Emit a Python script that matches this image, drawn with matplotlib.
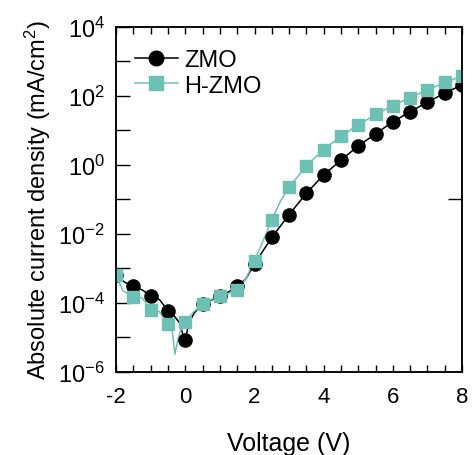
import numpy as np
import matplotlib
matplotlib.use('Agg')
import matplotlib.pyplot as plt
from matplotlib.ticker import FixedLocator, NullFormatter

plt.rcParams['font.family'] = ['Liberation Sans', 'DejaVu Sans']
plt.rcParams['mathtext.fontset'] = 'custom'
plt.rcParams['mathtext.rm'] = 'Liberation Sans'
plt.rcParams['mathtext.it'] = 'Liberation Sans'

# Marker points (every 0.5 V), values as log10(J)
volt_pts = [-2, -1.5, -1, -0.5, 0, 0.5, 1, 1.5, 2, 2.5, 3, 3.5, 4, 4.5, 5, 5.5, 6, 6.5, 7, 7.5, 8]
zmo_log = [-3.2, -3.52, -3.79, -4.22, -5.06, -4.03, -3.8, -3.52, -2.87, -2.10, -1.44, -0.82, -0.29,
           0.14, 0.55, 0.90, 1.25, 1.54, 1.82, 2.08, 2.32]
hzmo_log = [-3.19, -3.82, -4.20, -4.61, -4.54, -4.03, -3.79, -3.62, -2.77, -1.59, -0.65, -0.02, 0.44,
            0.83, 1.16, 1.46, 1.72, 1.95, 2.17, 2.39, 2.57]

# Continuous sweeps (extra points read around the dip)
zmo_line_v = [-2, -1.75, -1.5, -1.25, -1, -0.75, -0.5, -0.3, -0.15, -0.05, 0, 0.1, 0.25, 0.5, 0.75, 1,
              1.25, 1.5, 1.75, 2, 2.5, 3, 3.5, 4, 4.5, 5, 5.5, 6, 6.5, 7, 7.5, 8]
zmo_line_log = [-3.2, -3.4, -3.52, -3.62, -3.79, -3.9, -4.22, -4.4, -4.6, -5.0, -5.06, -4.6, -4.3, -4.03,
                -3.92, -3.8, -3.68, -3.52, -3.3, -2.87, -2.10, -1.44, -0.82, -0.29, 0.14, 0.55, 0.90,
                1.25, 1.54, 1.82, 2.08, 2.32]
hzmo_line_v = [-2, -1.8, -1.5, -1.25, -1, -0.75, -0.5, -0.4, -0.3, -0.2, -0.1, 0, 0.25, 0.5, 0.75, 1,
               1.25, 1.5, 1.75, 2, 2.25, 2.5, 2.75, 3, 3.5, 4, 4.5, 5, 5.5, 6, 6.5, 7, 7.5, 8]
hzmo_line_log = [-3.19, -3.65, -3.82, -3.85, -4.2, -4.25, -4.61, -4.62, -5.48, -5.0, -4.7, -4.54, -4.25,
                 -4.03, -3.9, -3.79, -3.72, -3.62, -3.3, -2.77, -2.2, -1.59, -1.05, -0.65, -0.02, 0.44,
                 0.83, 1.16, 1.46, 1.72, 1.95, 2.17, 2.39, 2.57]

teal = '#6cc0b4'

fig = plt.figure(figsize=(4.72, 4.56), dpi=100)
ax = fig.add_axes([0.246, 0.182, 0.733, 0.757])

ax.plot(zmo_line_v, 10 ** np.array(zmo_line_log), color='black', lw=1.1, zorder=2)
ax.plot(hzmo_line_v, 10 ** np.array(hzmo_line_log), color=teal, lw=1.1, zorder=2)
ax.plot(volt_pts, 10 ** np.array(zmo_log), 'o', color='black', ms=9.5, zorder=3)
ax.plot(volt_pts, 10 ** np.array(hzmo_log), 's', color=teal, ms=8, zorder=4)

# legend handles
ax.plot([], [], '-o', color='black', lw=1.1, ms=10.5, label='ZMO')
ax.plot([], [], '-s', color=teal, lw=1.1, ms=10, label='H-ZMO')
ax.legend(loc='upper left', bbox_to_anchor=(0.0, 0.99), frameon=False, fontsize=17,
          handlelength=1.8, handletextpad=0.3, labelspacing=0.15, borderaxespad=0.4)

ax.set_xlim(-2, 8)
ax.set_yscale('log')
ax.set_ylim(1e-6, 1e4)

ax.set_xticks([-2, 0, 2, 4, 6, 8])
ax.set_xticklabels(['-2', '0', '2', '4', '6', '8'])
ax.xaxis.set_minor_locator(FixedLocator(np.arange(-2, 8.01, 0.5)))
ax.set_yticks([1e-6, 1e-4, 1e-2, 1e0, 1e2, 1e4])
ax.set_yticklabels([r'$\mathregular{10^{%d}}$' % e for e in [-6, -4, -2, 0, 2, 4]])
ax.yaxis.set_minor_locator(FixedLocator([1e-5, 1e-3, 1e-1, 1e1, 1e3]))
ax.yaxis.set_minor_formatter(NullFormatter())

ax.tick_params(which='both', direction='in', top=True, right=False, width=1)
ax.tick_params(axis='x', which='both', length=5, pad=10, labelsize=16)
ax.tick_params(axis='y', which='both', length=10, pad=8, labelsize=17)

# single tick on the right spine
ax2 = ax.twinx()
ax2.set_yscale('log')
ax2.set_ylim(1e-6, 1e4)
ax2.yaxis.set_major_locator(FixedLocator([1e-1]))
ax2.yaxis.set_minor_locator(FixedLocator([]))
ax2.yaxis.set_major_formatter(NullFormatter())
ax2.tick_params(which='both', direction='in', length=10, width=1)

for a in (ax, ax2):
    for s in a.spines.values():
        s.set_linewidth(1.1)

ax.set_xlabel('Voltage (V)', fontsize=18, labelpad=17)
ax.set_ylabel(r'Absolute current density (mA/cm$\mathregular{^{2}}$)', fontsize=17, labelpad=4)

fig.savefig('out.png', dpi=100)
